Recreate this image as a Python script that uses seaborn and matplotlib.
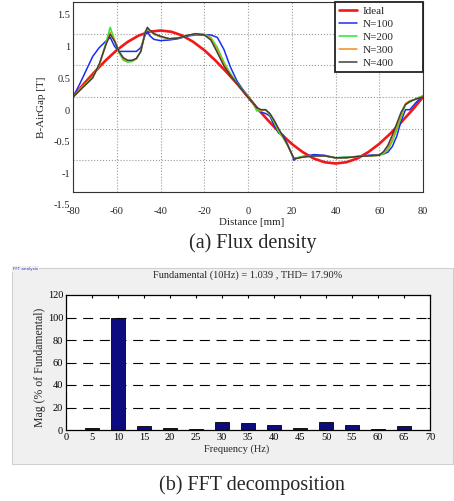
import matplotlib
matplotlib.use("Agg")
import matplotlib.pyplot as plt
import matplotlib.transforms as mtransforms
from matplotlib.patches import Rectangle
import seaborn as sns

# (a) air-gap flux density
x_ideal = [-80, -75, -70, -65, -60, -55, -50, -45, -40, -35, -30, -25, -20, -15, -10, -5, 0,
           5, 10, 15, 20, 25, 30, 35, 40, 45, 50, 55, 60, 65, 70, 75, 80]
b_ideal = [0.0, 0.21, 0.40, 0.58, 0.74, 0.87, 0.97, 1.03, 1.05, 1.03, 0.97, 0.87, 0.74, 0.58, 0.40, 0.21, 0.0,
           -0.21, -0.40, -0.58, -0.74, -0.87, -0.97, -1.03, -1.05, -1.03, -0.97, -0.87, -0.74, -0.58, -0.40, -0.21, 0.0]

x_fem = [-80, -77, -74, -71, -68, -65, -63, -61, -59, -57, -55, -53, -51, -49, -47, -46, -45, -43, -40,
         -36, -32, -28, -24, -20, -17, -14, -11, -8, -5, -2, 0, 2, 4, 6, 8, 10, 12, 14, 16, 18, 20,
         21, 22, 25, 30, 35, 40, 45, 50, 55, 60, 62, 64, 66, 68, 70, 72, 74, 77, 80]
b_n100 = [0.0, 0.20, 0.42, 0.64, 0.78, 0.88, 0.94, 0.80, 0.72, 0.72, 0.72, 0.72, 0.72, 0.78, 0.98, 1.04, 0.97, 0.91, 0.89,
          0.90, 0.92, 0.96, 0.98, 0.98, 0.98, 0.94, 0.75, 0.47, 0.25, 0.10, 0.02, -0.08, -0.17, -0.24, -0.26, -0.30, -0.45, -0.57, -0.60, -0.74, -0.90,
          -1.0, -0.97, -0.94, -0.91, -0.92, -0.96, -0.95, -0.94, -0.92, -0.91, -0.90, -0.87, -0.78, -0.62, -0.38, -0.20, -0.20, -0.08, 0.02]
b_n200 = [0.0, 0.12, 0.22, 0.32, 0.50, 0.85, 1.10, 0.90, 0.70, 0.58, 0.55, 0.56, 0.60, 0.72, 1.03, 1.08, 1.05, 0.99, 0.95,
          0.92, 0.93, 0.97, 0.99, 0.99, 0.94, 0.78, 0.55, 0.37, 0.22, 0.09, 0.02, -0.08, -0.22, -0.22, -0.20, -0.28, -0.40, -0.55, -0.64, -0.76, -0.90,
          -0.97, -0.96, -0.94, -0.93, -0.93, -0.96, -0.95, -0.94, -0.93, -0.92, -0.90, -0.83, -0.70, -0.52, -0.32, -0.12, -0.08, -0.02, 0.02]
b_n300 = [0.0, 0.11, 0.21, 0.31, 0.50, 0.83, 1.02, 0.90, 0.72, 0.60, 0.57, 0.57, 0.61, 0.72, 1.02, 1.08, 1.05, 1.00, 0.95,
          0.92, 0.93, 0.97, 1.00, 0.99, 0.92, 0.74, 0.52, 0.35, 0.21, 0.08, 0.01, -0.08, -0.19, -0.21, -0.20, -0.27, -0.38, -0.52, -0.63, -0.75, -0.90,
          -0.97, -0.97, -0.95, -0.93, -0.93, -0.96, -0.96, -0.94, -0.93, -0.92, -0.88, -0.80, -0.66, -0.47, -0.28, -0.10, -0.06, -0.03, 0.01]
b_n400 = [0.0, 0.10, 0.20, 0.30, 0.52, 0.82, 0.99, 0.88, 0.72, 0.62, 0.58, 0.58, 0.61, 0.72, 1.02, 1.10, 1.06, 1.00, 0.96,
          0.92, 0.93, 0.97, 1.00, 0.98, 0.90, 0.70, 0.49, 0.34, 0.21, 0.08, 0.0, -0.08, -0.17, -0.20, -0.20, -0.26, -0.37, -0.50, -0.62, -0.75, -0.90,
          -0.97, -0.97, -0.95, -0.93, -0.93, -0.96, -0.96, -0.94, -0.93, -0.92, -0.86, -0.76, -0.60, -0.42, -0.24, -0.12, -0.07, -0.03, 0.0]

series = [("Ideal", x_ideal, b_ideal, "#f01818", 1.9),
          ("N=100", x_fem, b_n100, "#1c2cf0", 1.1),
          ("N=200", x_fem, b_n200, "#28e828", 1.1),
          ("N=300", x_fem, b_n300, "#f0901c", 1.1),
          ("N=400", x_fem, b_n400, "#404040", 1.1)]

xticks_a = [-80, -60, -40, -20, 0, 20, 40, 60, 80]
yticks_a = [-1.5, -1, -0.5, 0, 0.5, 1, 1.5]
ylabels_a = ["-1.5", "-1", "-0.5", "0", "0.5", "1", "1.5"]

# (b) FFT of the flux density
freqs = [0, 5, 10, 15, 20, 25, 30, 35, 40, 45, 50, 55, 60, 65]
mags = [0.4, 1.4, 100, 3.7, 1.5, 1.3, 7.0, 6.0, 4.2, 1.8, 7.0, 4.8, 0.8, 3.7]

sns.set_theme(style="white")
plt.rcParams["font.family"] = ["Liberation Serif", "DejaVu Serif"]
plt.rcParams["axes.unicode_minus"] = False

W, H = 454, 501
fig = plt.figure(figsize=(W / 100, H / 100), dpi=100)
fig.patch.set_facecolor("white")

# ---------------- (a) Flux density ----------------
ax1 = fig.add_axes([73 / W, 1 - 192 / H, 350 / W, 190 / H])
for name, xs, ys, col, lw in series:
    sns.lineplot(x=xs, y=ys, color=col, linewidth=lw, label=name, estimator=None, ax=ax1)

ax1.set_xlim(-80, 80)
ax1.set_ylim(-1.5, 1.5)
ax1.set_xticks(xticks_a)
ax1.set_xticklabels([str(v) for v in xticks_a])
ax1.set_yticks(yticks_a)
ax1.set_yticklabels(ylabels_a)
ax1.grid(True, color="#9a9a9a", linestyle=":", linewidth=0.8)
ax1.tick_params(length=0, labelsize=7.5, colors="#222222")
ax1.tick_params(axis="x", pad=11)
ax1.tick_params(axis="y", pad=2)
for sp in ax1.spines.values():
    sp.set_color("#333333")
    sp.set_linewidth(0.8)

ax1.set_xlabel("Distance [mm]", fontsize=7.8, va="center")
ax1.xaxis.set_label_coords(0.511, -0.158)
ax1.set_ylabel("B-AirGap [T]", fontsize=8, va="center")
ax1.yaxis.set_label_coords(-0.091, 0.447)

leg = ax1.legend(loc="upper right", bbox_to_anchor=(0.749, 0, 0.251, 1), mode="expand",
                 borderaxespad=0, fontsize=8, handlelength=1.6, handletextpad=0.5,
                 labelspacing=0.3, borderpad=0.35, fancybox=False, framealpha=1)
leg.get_frame().set_edgecolor("#222222")
leg.get_frame().set_linewidth(1.3)

fig.text(253 / W, 1 - 243 / H, "(a) Flux density", fontsize=14.5, ha="center", va="center")

# ---------------- (b) FFT panel ----------------
panel = Rectangle((12 / W, 1 - 464 / H), 441 / W, 196 / H, transform=fig.transFigure,
                  facecolor="#f0f0f0", edgecolor="#d0d0d0", linewidth=0.8, zorder=-5)
fig.patches.append(panel)
fig.text(13 / W, 1 - 269 / H, "FFT analysis", fontsize=3, color="#3030c0", family="DejaVu Sans",
         ha="left", va="center", zorder=-4, bbox=dict(facecolor="#f0f0f0", edgecolor="none", pad=0.5))

ax2 = fig.add_axes([66 / W, 1 - 430 / H, 364 / W, 135 / H])
ax2.set_zorder(2)
sns.barplot(x=freqs, y=mags, native_scale=True, width=0.51, color="#0c0c80", saturation=1,
            edgecolor="black", linewidth=0.6, ax=ax2)
ax2.set_xlim(0, 70)
ax2.set_ylim(0, 120)
ax2.set_xticks(list(range(0, 75, 5)))
ax2.set_xticklabels([str(v) for v in range(0, 75, 5)])
ax2.set_yticks([0, 20, 40, 60, 80, 100, 120])
ax2.set_yticklabels(["0", "20", "40", "60", "80", "100", "120"])
for yv in [20, 40, 60, 80, 100]:
    ax2.axhline(yv, color="black", linestyle=(0, (9, 6)), linewidth=0.8, zorder=0.5)
ax2.tick_params(direction="in", length=2.5, width=0.8, labelsize=7.5, pad=2,
                top=True, right=True, colors="black")
for sp in ax2.spines.values():
    sp.set_color("black")
    sp.set_linewidth(0.9)

ax2.set_title("Fundamental (10Hz) = 1.039 , THD= 17.90%", fontsize=7.5, y=1.148, pad=0, va="center")
ax2.set_xlabel("Frequency (Hz)", fontsize=7.5, va="center")
ax2.xaxis.set_label_coords(0.47, -0.141)
ax2.set_ylabel("Mag (% of Fundamental)", fontsize=8.5, va="center")
ax2.yaxis.set_label_coords(-0.0714, 0.467)

fig.text(252 / W, 1 - 485 / H, "(b) FFT decomposition", fontsize=14.5, ha="center", va="center")

# y tick labels of (a) sit lower than their grid lines in the original
shift = mtransforms.ScaledTranslation(0, -13 / 100, fig.dpi_scale_trans)
for lab in ax1.get_yticklabels():
    lab.set_transform(lab.get_transform() + shift)

fig.savefig("out.png", dpi=100, facecolor="white")
